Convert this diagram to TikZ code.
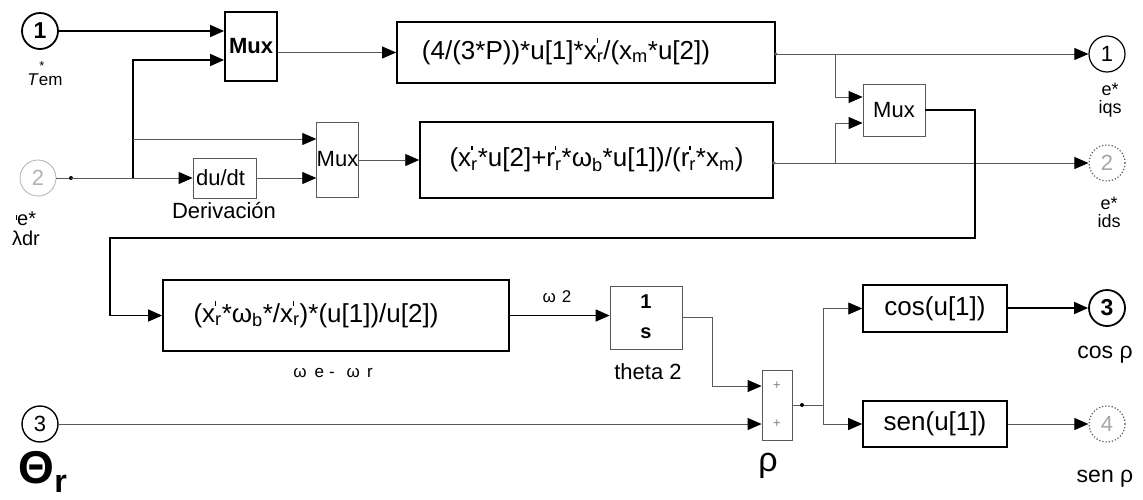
\documentclass[tikz,border=0pt]{standalone}
\usepackage{fontspec}
\setmainfont{Liberation Sans}
\usetikzlibrary{arrows.meta,calc}
\newcommand\fsz[1]{\fontsize{#1}{#1}\selectfont}
\newcommand\tck{\rule{0.07em}{0.25em}}
% x'_r style symbol: letter, subscript, small tick above the subscript
\newcommand\pz[2]{#1\textsubscript{\smash{\makebox[0pt][l]{\raisebox{1.1em}{\tck}}}#2}}
\newcommand\sbs[1]{\textsubscript{#1}}

\begin{document}
\begin{tikzpicture}[x=1pt,y=-1pt,
  sig/.style={draw=gray!70!black, line width=0.8pt, -{Triangle[length=14pt,width=12pt,color=black]}},
  bsig/.style={draw=black, line width=1.6pt, -{Triangle[length=14pt,width=12pt]}},
  wire/.style={draw=gray!70!black, line width=0.8pt},
  bwire/.style={draw=black, line width=1.6pt},
  bbox/.style={draw=black, line width=1.8pt, rectangle, inner sep=0pt},
  tbox/.style={draw=gray!70!black, line width=0.8pt, rectangle, inner sep=0pt},
  port/.style={circle, inner sep=0pt, minimum size=36pt, font=\fsz{22}},
  ftext/.style={font=\fsz{26}, inner sep=0pt},
  lbl/.style={inner sep=0pt}
]
\fill[white] (0,0) rectangle (1143,499);
\useasboundingbox (0,0) rectangle (1143,499);

% ---------- ports ----------
\node[port, draw=black, line width=1.8pt, font=\fsz{23}\bfseries] (in1) at (40,31) {1};
\node[port, draw=gray!60, line width=0.8pt, text=gray!60] (in2) at (38,178) {2};
\node[port, draw=black, line width=1.4pt] (in3) at (40,424) {3};
\node[port, draw=black, line width=1.2pt] (out1) at (1107,54) {1};
\node[port, draw=gray!70!black, line width=1.2pt, dotted, text=gray!70] (out2) at (1107,163) {2};
\node[port, draw=black, line width=1.8pt, font=\fsz{23}\bfseries] (out3) at (1107,308) {3};
\node[port, draw=gray!70!black, line width=1.2pt, dotted, text=gray!70] (out4) at (1107,424) {4};

% ---------- blocks ----------
\node[bbox, minimum width=52pt, minimum height=69pt, font=\fsz{22}\bfseries] (mux1) at (251,46.5) {Mux};
\node[tbox, minimum width=41pt, minimum height=75pt, font=\fsz{22}] (mux2) at (337.5,159.5) {\raisebox{-8pt}{Mux}};
\node[tbox, minimum width=62pt, minimum height=52pt, font=\fsz{22}] (mux3) at (894,110) {Mux};
\node[tbox, minimum width=63pt, minimum height=40pt, font=\fsz{22}] (dudt) at (224.5,178) {du/dt\hspace*{8pt}};
\node[bbox, minimum width=378pt, minimum height=61pt] (fcn1) at (586,52.5) {};
\node[ftext] (t1) at ($(fcn1)+(-20,0)$) {(4/(3*P))*u[1]*\pz{x}{r}/(x\sbs{m}*u[2])};
\node[bbox, line width=1.5pt, minimum width=353pt, minimum height=76pt] (fcn2) at (596.5,160) {};
\node[ftext] (t2) at (fcn2) {(\pz{x}{r}*u[2]+\pz{r}{r}*ω\sbs{b}*u[1])/(\pz{r}{r}*x\sbs{m})};
\node[bbox, minimum width=346pt, minimum height=71pt] (fcn3) at (336,315.5) {};
\node[ftext] (t3) at ($(fcn3)+(-20,0)$) {(\pz{x}{r}*ω\sbs{b}*/\pz{x}{r})*(u[1])/u[2])};
\node[tbox, minimum width=72pt, minimum height=63pt] (integ) at (646,317.5) {};
\node[lbl, font=\fsz{20}\bfseries] (one) at (646,302) {1};
\node[lbl, font=\fsz{20}\bfseries] (ess) at (646,333) {s};
\node[tbox, minimum width=30pt, minimum height=70pt] (sum) at (777,405) {};
\node[lbl, font=\fsz{13}, text=gray] (p1) at (777,386) {+};
\node[lbl, font=\fsz{13}, text=gray] (p2) at (777,424) {+};
\node[bbox, line width=1.5pt, minimum width=144pt, minimum height=47pt, font=\fsz{26}] (cosb) at (935,308.5) {cos(u[1])};
\node[bbox, line width=1.6pt, minimum width=144pt, minimum height=46pt, font=\fsz{26}] (senb) at (935,424) {sen(u[1])};

% ---------- labels ----------
\node[lbl, font=\fsz{17}] (tem) at (45,80) {\textit{T}em};
\node[lbl, font=\fsz{13}] (temstar) at (42,66) {*};
\node[lbl, font=\fsz{20}, align=center] (lam) at (26,229) {\raisebox{0.3em}{\tck}e*\\λdr};
\node[lbl, font=\fsz{22}] (der) at (224,211) {Derivación};
\node[lbl, font=\fsz{18}, align=center] (iq) at (1110,100) {e*\\iqs};
\node[lbl, font=\fsz{18}, align=center] (id) at (1109,212) {e*\\ids};
\node[lbl, font=\fsz{17}] (wer) at (333,373) {ω\hspace{8pt}e\hspace{5pt}-\hspace{12pt}ω\hspace{7pt}r};
\node[lbl, font=\fsz{17}] (w2) at (557,297) {ω\hspace{6pt}2};
\node[lbl, font=\fsz{22}] (th2) at (648,372) {theta 2};
\node[lbl, font=\fsz{34}] (rho) at (768,466) {ρ};
\node[lbl, font=\fsz{46}\bfseries] (thr) at (43,472) {Θ\textsubscript{r}};
\node[lbl, font=\fsz{23}] (cr) at (1105,355) {cos ρ};
\node[lbl, font=\fsz{23}] (sr) at (1105,479) {sen ρ};

% ---------- junctions ----------
\coordinate (jl) at (133,178);
\coordinate (jm) at (133,139);
\coordinate (m1b) at ($(mux1.west)+(0,13.5)$);
\coordinate (m3a) at ($(mux3.west)+(0,-13)$);
\coordinate (m3b) at ($(mux3.west)+(0,13)$);
\coordinate (b1) at (835,54);
\coordinate (b2) at (835,163);
\coordinate (fb1) at (975,238);
\coordinate (fb2) at (110,238);
\coordinate (ci) at (712,386);
\coordinate (s1) at ($(sum.west)+(0,-19)$);
\coordinate (s2) at ($(sum.west)+(0,19)$);
\coordinate (sd) at (802,405);
\coordinate (sb) at (823,405);
\coordinate (dl) at (71,178);

% ---------- signals ----------
\draw[bsig] (in1.east) -- (mux1.west |- in1.east);
\draw[bsig] (jl) -- (jl |- m1b) -- (m1b);
\draw[wire] (in2.east) -- (dl);
\fill[black] (dl) circle (2pt);
\draw[sig] (dl) -- (dudt.west);
\draw[sig] (jm) -- (mux2.west |- jm);
\draw[sig] (dudt.east) -- (mux2.west |- dudt.east);
\draw[sig] (mux1.east |- fcn1.west) -- (fcn1.west);
\draw[sig] (mux2.east |- fcn2.west) -- (fcn2.west);
\draw[sig] (fcn1.east |- out1) -- (out1.west);
\draw[sig] (fcn2.east |- out2) -- (out2.west);
\fill[gray!70!black] (fcn1.east |- out1) circle (1.8pt);
\fill[gray!70!black] (fcn2.east |- out2) circle (1.8pt);
\draw[sig] (b1) -- (b1 |- m3a) -- (m3a);
\draw[sig] (b2) -- (b2 |- m3b) -- (m3b);
\draw[bsig] (mux3.east) -| (fb1) -- (fb2) |- (fcn3.west);
\draw[bsig] (fcn3.east) -- (integ.west |- fcn3.east);
\draw[sig] (integ.east) -| (ci) -- (s1);
\draw[sig] (in3.east |- s2) -- (s2);
\draw[wire] (sum.east) -- (sb);
\fill[black] (sd) circle (2pt);
\draw[sig] (sb) |- (cosb.west);
\draw[sig] (sb) |- (senb.west);
\draw[bsig] (cosb.east |- out3) -- (out3.west);
\draw[sig] (senb.east |- out4) -- (out4.west);
\end{tikzpicture}
\end{document}
